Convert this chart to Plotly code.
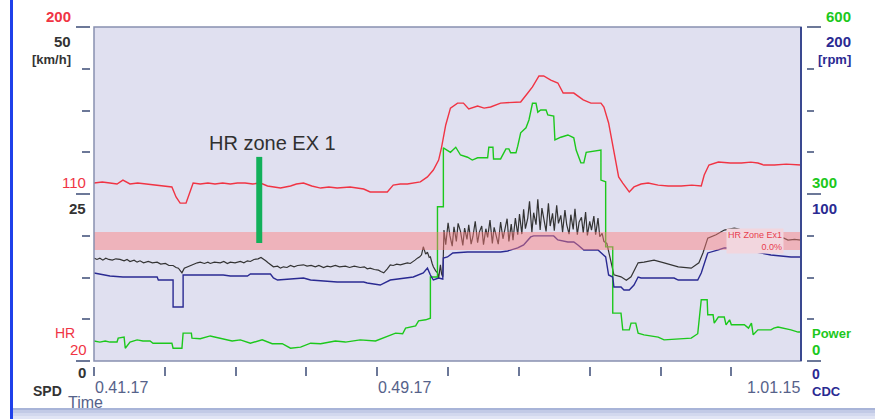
import plotly.graph_objects as go

# -----------------------
# DATA  (time = clock seconds, 0:41:17 -> 2477 s)
# -----------------------
T_RANGE = [2477, 3675]
TICK_T = [2477, 2597, 2717, 2837, 2957, 3077, 3197, 3317, 3437, 3557]
TIME_LABELS = ["0.41.17", "0.49.17", "1.01.15"]
TIME_LABEL_T = [2477, 2957, 3675]

# heart rate [bpm]
hr_t = [2477, 2491, 2504, 2516, 2526, 2538, 2551, 2564, 2584, 2598, 2609, 2616, 2623,
        2633, 2640, 2645, 2657, 2670, 2682, 2695, 2708, 2720, 2733, 2746, 2759, 2771,
        2782, 2793, 2810, 2820, 2832, 2846, 2861, 2875, 2889, 2911, 2934, 2945, 2960,
        2974, 2984, 2996, 3008, 3020, 3030, 3042, 3052, 3061, 3066, 3073, 3081, 3093,
        3103, 3112, 3127, 3138, 3149, 3166, 3183, 3200, 3212, 3220, 3231, 3239, 3251,
        3263, 3272, 3290, 3306, 3319, 3336, 3341, 3349, 3358, 3366, 3373, 3384, 3392,
        3404, 3416, 3433, 3450, 3472, 3490, 3506, 3511, 3519, 3535, 3555, 3574, 3590,
        3602, 3612, 3630, 3650, 3675]
hr_bpm = [115.9, 116.5, 115.9, 115.4, 117.5, 115.4, 115.9, 115.4, 114.8, 114.3, 113.8, 108.4, 105.1,
          105.1, 111.1, 115.9, 115.4, 115.9, 115.4, 115.9, 115.4, 115.9, 115.9, 115.4, 115.9, 114.3,
          113.8, 113.2, 114.3, 115.4, 115.9, 114.3, 113.2, 113.8, 113.2, 113.8, 112.7, 111.1, 111.1,
          111.1, 114.8, 115.4, 115.4, 116.0, 116.5, 119.2, 122.9, 128.3, 135.3, 147.2, 156.3, 159.0,
          159.0, 155.8, 157.4, 156.3, 156.9, 159.0, 159.3, 159.6, 164.4, 167.7, 173.6, 173.6, 171.4,
          169.8, 164.4, 164.4, 160.7, 159.0, 159.0, 156.9, 148.3, 133.7, 119.2, 115.9, 111.1, 113.8,
          115.4, 115.9, 114.8, 114.3, 114.3, 114.8, 114.3, 120.2, 125.6, 127.2, 126.7, 126.7, 127.2,
          126.7, 125.6, 125.6, 126.1, 125.6]

# power [W]
pwr_t = [2477, 2487, 2496, 2504, 2516, 2518, 2528, 2530, 2538, 2550, 2560, 2572, 2577, 2609,
         2611, 2626, 2628, 2642, 2643, 2657, 2674, 2691, 2711, 2725, 2742, 2762, 2779, 2796,
         2810, 2827, 2844, 2861, 2886, 2903, 2928, 2954, 2971, 2988, 3000, 3005, 3022, 3027,
         3039, 3047, 3047, 3059, 3059, 3069, 3069, 3081, 3090, 3098, 3110, 3118, 3127, 3144,
         3146, 3153, 3154, 3166, 3175, 3180, 3183, 3192, 3195, 3200, 3209, 3214, 3220, 3226,
         3229, 3234, 3243, 3246, 3256, 3258, 3268, 3280, 3290, 3294, 3302, 3307, 3311, 3336,
         3336, 3344, 3344, 3356, 3356, 3370, 3373, 3384, 3387, 3395, 3399, 3409, 3433, 3443,
         3489, 3500, 3506, 3516, 3517, 3526, 3528, 3535, 3545, 3548, 3554, 3557, 3579, 3586,
         3591, 3594, 3602, 3624, 3629, 3636, 3658, 3670, 3675]
pwr_w = [36, 34, 36, 34, 34, 41, 43, 23, 34, 38, 36, 36, 32, 32,
         23, 23, 50, 50, 41, 40, 45, 41, 36, 38, 32, 38, 31, 31,
         23, 25, 32, 31, 36, 34, 38, 36, 43, 50, 49, 59, 63, 72,
         74, 77, 151, 151, 277, 277, 383, 375, 384, 370, 366, 361, 365, 365,
         384, 384, 363, 363, 381, 381, 374, 374, 386, 410, 419, 433, 463, 463,
         447, 451, 451, 442, 440, 397, 402, 406, 401, 379, 356, 356, 375, 379,
         325, 322, 205, 205, 86, 86, 56, 56, 68, 68, 50, 47, 43, 38,
         41, 49, 110, 110, 83, 83, 68, 79, 79, 65, 74, 65, 65, 59,
         68, 47, 56, 56, 59, 61, 56, 52, 52]

# speed [km/h]
spd_t = [2477, 2482, 2487, 2492, 2497, 2502, 2508, 2514, 2521, 2528, 2533, 2538, 2545, 2550,
         2555, 2561, 2569, 2576, 2584, 2590, 2598, 2604, 2611, 2616, 2620, 2626, 2630, 2635,
         2641, 2648, 2652, 2657, 2664, 2670, 2674, 2681, 2691, 2697, 2703, 2708, 2716, 2725,
         2731, 2737, 2742, 2748, 2755, 2760, 2764, 2768, 2772, 2777, 2781, 2788, 2793, 2798,
         2804, 2810, 2816, 2822, 2832, 2838, 2845, 2852, 2858, 2866, 2872, 2878, 2886, 2893,
         2903, 2910, 2918, 2928, 2935, 2940, 2945, 2952, 2959, 2963, 2968, 2974, 2979, 2984,
         2990, 2996, 3002, 3008, 3013, 3017, 3021, 3025, 3029, 3032, 3035, 3039, 3042, 3045,
         3047, 3050, 3052, 3056, 3059, 3061, 3064, 3066, 3068,
         3070, 3073, 3077, 3080, 3084, 3087, 3091, 3094, 3098, 3102, 3105, 3109, 3112, 3116,
         3119, 3123, 3127, 3130, 3134, 3137, 3141, 3144, 3148, 3152, 3155, 3159, 3162, 3166,
         3170, 3173, 3177, 3180, 3184, 3187, 3191, 3195, 3198,
         3202, 3205, 3208, 3212, 3215, 3219, 3222, 3226, 3229, 3233, 3236, 3240, 3243, 3247,
         3250, 3254, 3257, 3261, 3264, 3268,
         3271, 3275, 3278, 3282, 3285, 3289, 3292, 3296, 3299, 3303, 3306, 3310, 3313, 3317,
         3320, 3324, 3327, 3331, 3334, 3338, 3341, 3346,
         3353, 3358, 3370, 3379, 3387, 3399, 3409, 3426, 3443, 3467, 3489, 3502, 3509, 3517,
         3531, 3545, 3562, 3568, 3590, 3620, 3646, 3653, 3664, 3675]
spd_kmh = [15.4, 15.2, 15.4, 15.1, 15.4, 15.2, 15.1, 15.3, 15.2, 15.0, 15.2, 14.9, 15.1, 14.8,
           15.0, 14.7, 14.9, 14.7, 14.8, 14.5, 14.6, 14.3, 14.3, 14.0, 13.9, 13.2, 13.9, 14.1,
           14.3, 14.5, 14.7, 14.8, 14.6, 14.8, 14.6, 14.8, 14.7, 14.9, 14.6, 14.8, 14.7, 14.9,
           14.7, 15.0, 14.9, 15.2, 15.3, 15.5, 15.3, 15.0, 14.7, 14.3, 14.1, 14.2, 13.9, 14.1,
           14.0, 14.3, 14.1, 14.3, 14.4, 14.2, 14.3, 14.1, 14.3, 14.0, 14.2, 14.1, 14.3, 14.1,
           14.2, 14.0, 14.2, 14.0, 14.1, 13.8, 13.9, 13.7, 13.6, 13.4, 13.2, 13.8, 14.4, 14.3,
           14.5, 14.4, 14.6, 14.7, 14.6, 14.8, 15.1, 15.4, 15.6, 15.9, 17.1, 16.0, 16.3, 15.5,
           15.6, 14.6, 14.1, 13.5, 13.2, 12.4, 14.4, 13.0, 12.6,
           19.6, 17.4, 20.7, 18.8, 17.2, 20.1, 17.9, 20.6, 19.4, 17.3, 19.9, 18.2, 20.4, 17.5,
           18.6, 20.9, 17.7, 19.3, 20.2, 17.4, 19.8, 18.5, 21.1, 17.6, 20.0, 18.7, 17.5, 20.8,
           18.3, 19.6, 21.3, 17.9, 20.5, 18.1, 21.4, 18.9, 22.0,
           19.0, 22.7, 19.8, 21.4, 23.9, 19.3, 22.2, 20.4, 24.2, 19.6, 22.9, 20.7, 19.4, 23.6,
           20.2, 22.1, 19.5, 23.3, 20.6, 21.8,
           19.3, 22.6, 20.4, 19.0, 21.9, 19.7, 22.8, 18.9, 20.8, 21.5, 19.2, 22.3, 18.8, 20.9,
           19.6, 21.7, 18.9, 21.4, 18.6, 19.1, 17.9, 17.6,
           14.7, 12.9, 12.6, 12.1, 12.6, 14.7, 14.8, 15.1, 14.7, 14.1, 13.9, 14.7, 16.2, 18.4,
           18.9, 19.6, 19.9, 19.8, 19.2, 18.8, 18.4, 18.1, 18.2, 18.1]

# cadence [rpm]
cdc_t = [2477, 2492, 2504, 2526, 2550, 2584, 2586, 2611, 2611, 2628, 2628, 2696, 2708, 2737,
         2742, 2776, 2781, 2788, 2832, 2844, 2889, 2934, 2940, 2962, 2979, 3001, 3018, 3035,
         3042, 3047, 3052, 3061, 3068, 3069, 3076, 3085, 3110, 3166, 3178, 3195, 3205, 3217,
         3222, 3256, 3263, 3280, 3290, 3297, 3307, 3331, 3336, 3344, 3349, 3356, 3358, 3370,
         3375, 3384, 3392, 3399, 3404, 3460, 3467, 3500, 3506, 3511, 3517, 3535, 3545, 3562,
         3579, 3602, 3624, 3658, 3675]
cdc_rpm = [52.7, 51.5, 50.9, 50.3, 50.3, 50.3, 48.5, 48.5, 32.3, 32.3, 51.5, 51.5, 50.9, 50.9,
           52.1, 52.1, 49.7, 48.5, 49.7, 48.5, 47.3, 47.3, 46.7, 45.5, 48.5, 49.7, 50.3, 52.7,
           55.7, 51.5, 48.5, 49.7, 49.1, 61.7, 62.3, 64.7, 65.3, 65.3, 65.9, 67.7, 69.5, 74.3,
           74.9, 74.9, 72.5, 71.3, 71.3, 69.5, 66.5, 66.5, 64.7, 62.3, 51.5, 50.3, 44.3, 44.3,
           42.5, 42.5, 45.5, 50.3, 49.7, 49.7, 48.5, 48.5, 52.7, 58.7, 64.7, 66.5, 67.7, 67.7,
           66.5, 65.3, 63.5, 62.3, 62.3]

HR_ZONE = [79.8, 89.5]
ZONE_NOTE_T = 2757
ZONE_NOTE_HR = [83.6, 130.0]

assert len(hr_t) == len(hr_bpm)
assert len(pwr_t) == len(pwr_w)
assert len(spd_t) == len(spd_kmh)
assert len(cdc_t) == len(cdc_rpm)

# -----------------------
# HELPERS (pixel -> paper)
# -----------------------
W, H = 875, 419


def px(x):
    return x / W


def py(y):
    return 1 - y / H


RED = "#f03444"
GREEN = "#1cc81c"
NAVY = "#2a2a92"
DARK = "#333333"
SLATE = "#56628a"
TICK = "#6c7898"
FONT = "Arial, Liberation Sans, sans-serif"

fig = go.Figure()

# -----------------------
# TRACES
# -----------------------
fig.add_trace(go.Scatter(x=cdc_t, y=cdc_rpm, yaxis="y4", mode="lines",
                         line=dict(color=NAVY, width=1.4), name="CDC"))
fig.add_trace(go.Scatter(x=spd_t, y=spd_kmh, yaxis="y2", mode="lines",
                         line=dict(color=DARK, width=1.2), name="SPD"))
fig.add_trace(go.Scatter(x=pwr_t, y=pwr_w, yaxis="y3", mode="lines",
                         line=dict(color=GREEN, width=1.4), name="Power"))
fig.add_trace(go.Scatter(x=hr_t, y=hr_bpm, yaxis="y", mode="lines",
                         line=dict(color=RED, width=1.4), name="HR"))

# HR zone band (semi transparent, above lines)
fig.add_shape(type="rect", xref="x domain", yref="y", x0=0, x1=1,
              y0=HR_ZONE[0], y1=HR_ZONE[1], fillcolor="rgba(255,124,122,0.45)",
              line=dict(width=0), layer="above")
# zone note marker
fig.add_shape(type="line", xref="x", yref="y", x0=ZONE_NOTE_T, x1=ZONE_NOTE_T,
              y0=ZONE_NOTE_HR[0], y1=ZONE_NOTE_HR[1],
              line=dict(color="#12b05a", width=6), layer="above")
# plot frame
fig.add_shape(type="rect", xref="x domain", yref="y domain", x0=0, x1=1, y0=0, y1=1,
              line=dict(color="#8890b0", width=1.5), layer="above")
fig.add_shape(type="line", xref="x domain", yref="y domain", x0=1, x1=1, y0=0, y1=1,
              line=dict(color="#3a4890", width=2), layer="above")

# page decorations
fig.add_shape(type="rect", xref="paper", yref="paper", x0=px(10), x1=px(13), y0=0, y1=1,
              fillcolor="#1f40ea", line=dict(width=0))
for y0, y1, c in [(408, 410, "#a8b4d8"), (410, 413, "#c2cae6"),
                  (413, 416, "#d2d8ee"), (416, 419, "#e0e4f4")]:
    fig.add_shape(type="rect", xref="paper", yref="paper", x0=px(13), x1=1,
                  y0=py(y1), y1=py(y0), fillcolor=c, line=dict(width=0))

# -----------------------
# LABELS
# -----------------------
labels = [
    ("200", 72, 16, "right", RED, 15, True),
    ("50", 72, 41, "right", DARK, 15, True),
    ("[km/h]", 72, 59, "right", DARK, 13, True),
    ("110", 87, 182, "right", RED, 15, False),
    ("25", 87, 208, "right", DARK, 15, True),
    ("HR", 76, 333, "right", RED, 14, False),
    ("20", 88, 349, "right", RED, 15, False),
    ("0", 87, 372, "right", DARK, 15, True),
    ("SPD", 63, 391, "right", DARK, 14, True),
    ("Time", 67, 402, "left", SLATE, 16, False),
    ("600", 852, 16, "right", GREEN, 15, True),
    ("200", 852, 41, "right", NAVY, 15, True),
    ("[rpm]", 852, 59, "right", NAVY, 13, True),
    ("300", 811, 182, "left", GREEN, 15, True),
    ("100", 811, 208, "left", NAVY, 15, True),
    ("Power", 811, 333, "left", GREEN, 13, True),
    ("0", 811, 349, "left", GREEN, 15, True),
    ("0", 811, 374, "left", NAVY, 14, True),
    ("CDC", 811, 391, "left", NAVY, 13, True),
]
for txt, x, y, anchor, col, size, bold in labels:
    fig.add_annotation(text=f"<b>{txt}</b>" if bold else txt, xref="paper", yref="paper",
                       x=px(x), y=py(y), xanchor=anchor, yanchor="middle", showarrow=False,
                       borderpad=0, font=dict(family=FONT, size=size, color=col))

for txt, t, anchor in zip(TIME_LABELS, TIME_LABEL_T, ["left", "left", "right"]):
    fig.add_annotation(text=txt, xref="x", yref="paper", x=t, y=py(387), xanchor=anchor,
                       yanchor="middle", showarrow=False, borderpad=0,
                       font=dict(family=FONT, size=16, color=SLATE))

fig.add_annotation(text="HR zone EX 1", xref="x", yref="paper", x=ZONE_NOTE_T + 22,
                   y=py(143), xanchor="center", yanchor="middle", showarrow=False,
                   font=dict(family=FONT, size=20, color="#303030"))
fig.add_annotation(text="HR Zone Ex1<br>0.0%", xref="paper", yref="y", x=px(784),
                   y=sum(HR_ZONE) / 2, xanchor="right", yanchor="middle", align="right",
                   showarrow=False, bgcolor="#f2d6de", borderpad=1,
                   font=dict(family=FONT, size=9, color="#e8404e"))

# -----------------------
# AXES / LAYOUT
# -----------------------
x_dom = [px(94), px(801)]
y_dom = [py(361), py(27)]

fig.update_layout(
    width=W, height=H, autosize=False,
    margin=dict(l=0, r=0, t=0, b=0),
    paper_bgcolor="white", plot_bgcolor="#e0e0f0",
    showlegend=False,
    xaxis=dict(domain=x_dom, range=T_RANGE, anchor="free", position=py(366),
               tickmode="array", tickvals=TICK_T, ticks="outside", ticklen=9,
               tickwidth=1.5, tickcolor=TICK, showticklabels=False,
               showgrid=False, zeroline=False, showline=False),
    yaxis=dict(domain=y_dom, range=[20, 200], anchor="free", position=px(90),
               side="left", tickmode="linear", tick0=20, dtick=90, ticks="outside",
               ticklen=14, tickwidth=1.5, tickcolor=TICK, showticklabels=False,
               minor=dict(ticks="outside", tick0=20, dtick=22.5, ticklen=8,
                          tickwidth=1.5, tickcolor=TICK, showgrid=False),
               showgrid=False, zeroline=False, showline=False),
    yaxis2=dict(overlaying="y", range=[0, 50], visible=False),
    yaxis3=dict(overlaying="y", range=[0, 600], visible=False),
    yaxis4=dict(overlaying="y", range=[0, 200], anchor="free", position=px(806),
                side="right", tickmode="linear", tick0=0, dtick=100, ticks="outside",
                ticklen=14, tickwidth=1.5, tickcolor=TICK, showticklabels=False,
                minor=dict(ticks="outside", tick0=0, dtick=25, ticklen=7,
                           tickwidth=1.5, tickcolor=TICK, showgrid=False),
                showgrid=False, zeroline=False, showline=False),
)

# drop the default body margin so the figure sits at the page origin
fig.write_html("out.html", config={"displayModeBar": False},
               post_script="document.body.style.margin='0px';")
